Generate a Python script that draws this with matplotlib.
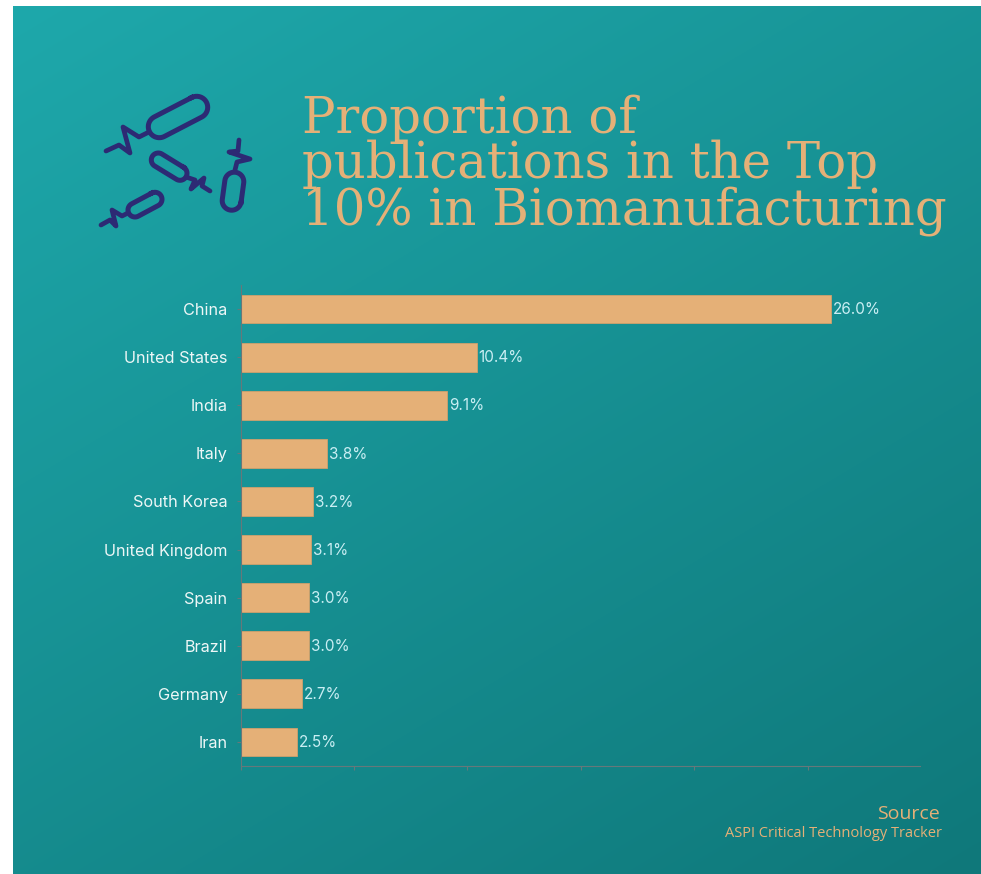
import numpy as np
import matplotlib
matplotlib.use('Agg')
import matplotlib.pyplot as plt

countries = ['China', 'United States', 'India', 'Italy', 'South Korea',
             'United Kingdom', 'Spain', 'Brazil', 'Germany', 'Iran']
share = [26.0, 10.4, 9.1, 3.8, 3.2, 3.1, 3.0, 3.0, 2.7, 2.5]
title_lines = ['Proportion of', 'publications in the Top', '10% in Biomanufacturing']
x_ticks = [0, 5, 10, 15, 20, 25]

W, H = 981, 874
SAND = '#e5b077'
NAVY = '#2d2a74'


def capsule(p0, p1, r, n=24):
    # closed outline around the segment p0-p1
    p0, p1 = np.array(p0, float), np.array(p1, float)
    a = np.arctan2(*(p1 - p0)[::-1])
    t1 = np.linspace(a - np.pi / 2, a + np.pi / 2, n)
    t0 = np.linspace(a + np.pi / 2, a + 3 * np.pi / 2, n)
    arc1 = p1 + r * np.c_[np.cos(t1), np.sin(t1)]
    arc0 = p0 + r * np.c_[np.cos(t0), np.sin(t0)]
    return np.vstack([arc1, arc0, arc1[:1]])


fig = plt.figure(figsize=(W / 100, H / 100), dpi=100, facecolor='white')

# teal panel with a diagonal gradient
bg = fig.add_axes([0, 0, 1, 1])
bg.axis('off')
yy, xx = np.mgrid[0:1:200j, 0:1:200j]
g = (0.4 * xx + 0.6 * yy)[..., None]
c0 = np.array([0x1e, 0xa8, 0xab]) / 255
c1 = np.array([0x0f, 0x78, 0x7a]) / 255
bg.imshow(c0 + (c1 - c0) * g, extent=[13, W, H, 6], aspect='auto', interpolation='bilinear')
bg.set_xlim(0, W)
bg.set_ylim(H, 0)

# bacteria icon
capsules = [((159.3, 126.7), (196.7, 107.3), 11),
            ((158.3, 160), (180, 173.3), 7),
            ((135, 210), (155, 199.3), 7),
            ((234.3, 181.7), (231.7, 200.7), 9.5)]
zigzags = [[(106, 151), (119, 145), (130, 153), (123, 127), (139, 137), (149, 132)],
           [(186, 177), (195, 180), (191, 189), (204, 178), (202, 186), (210, 191)],
           [(101, 225), (110, 220), (116, 226), (112, 210), (122, 216), (128, 213)],
           [(239, 140), (238, 151), (229, 152), (250, 159), (237, 162), (235, 170)]]
for p0, p1, r in capsules:
    pts = capsule(p0, p1, r)
    bg.plot(pts[:, 0], pts[:, 1], color=NAVY, lw=3.6, solid_joinstyle='round')
for z in zigzags:
    z = np.array(z)
    bg.plot(z[:, 0], z[:, 1], color=NAVY, lw=3.4, solid_capstyle='round', solid_joinstyle='round')

# title and source
for line, y in zip(title_lines, [133, 178, 224]):
    bg.text(302, y, line, color=SAND, fontsize=35.8, family='DejaVu Serif',
            va='baseline', ha='left')
bg.text(940, 819, 'Source', color=SAND, fontsize=14, family='Open Sans', ha='right', va='baseline')
bg.text(942, 837, 'ASPI Critical Technology Tracker', color=SAND, fontsize=10.5,
        family='Open Sans', ha='right', va='baseline')

# bars
ax = fig.add_axes([240.5 / W, 1 - 766 / H, (920 - 240.5) / W, (766 - 285) / H])
ax.patch.set_alpha(0)
y = np.arange(len(countries))
ax.barh(y, share, height=0.6, color=SAND, edgecolor='#cfa06c', linewidth=0.6)
ax.set_xlim(0, 29.94)
ax.set_ylim(len(countries) - 0.5, -0.5)
ax.set_yticks(y)
ax.set_yticklabels(countries, color='#eef7f7', fontsize=11.7, family='Inter')
ax.set_xticks(x_ticks)
ax.set_xticklabels([])
ax.tick_params(axis='y', length=3, width=0.8, color='#66787a', pad=6.4)
ax.tick_params(axis='x', length=3, width=0.8, color='#66787a')
for s in ['top', 'right']:
    ax.spines[s].set_visible(False)
for s in ['left', 'bottom']:
    ax.spines[s].set_color('#66787a')
    ax.spines[s].set_linewidth(0.8)

for i, v in enumerate(share):
    ax.annotate(f'{v:.1f}%', (v, i), xytext=(1.5, -0.5), textcoords='offset points',
                color='#c9eef3', fontsize=11, family='Inter', va='center', ha='left')

fig.savefig('out.png', dpi=100, facecolor='white')
